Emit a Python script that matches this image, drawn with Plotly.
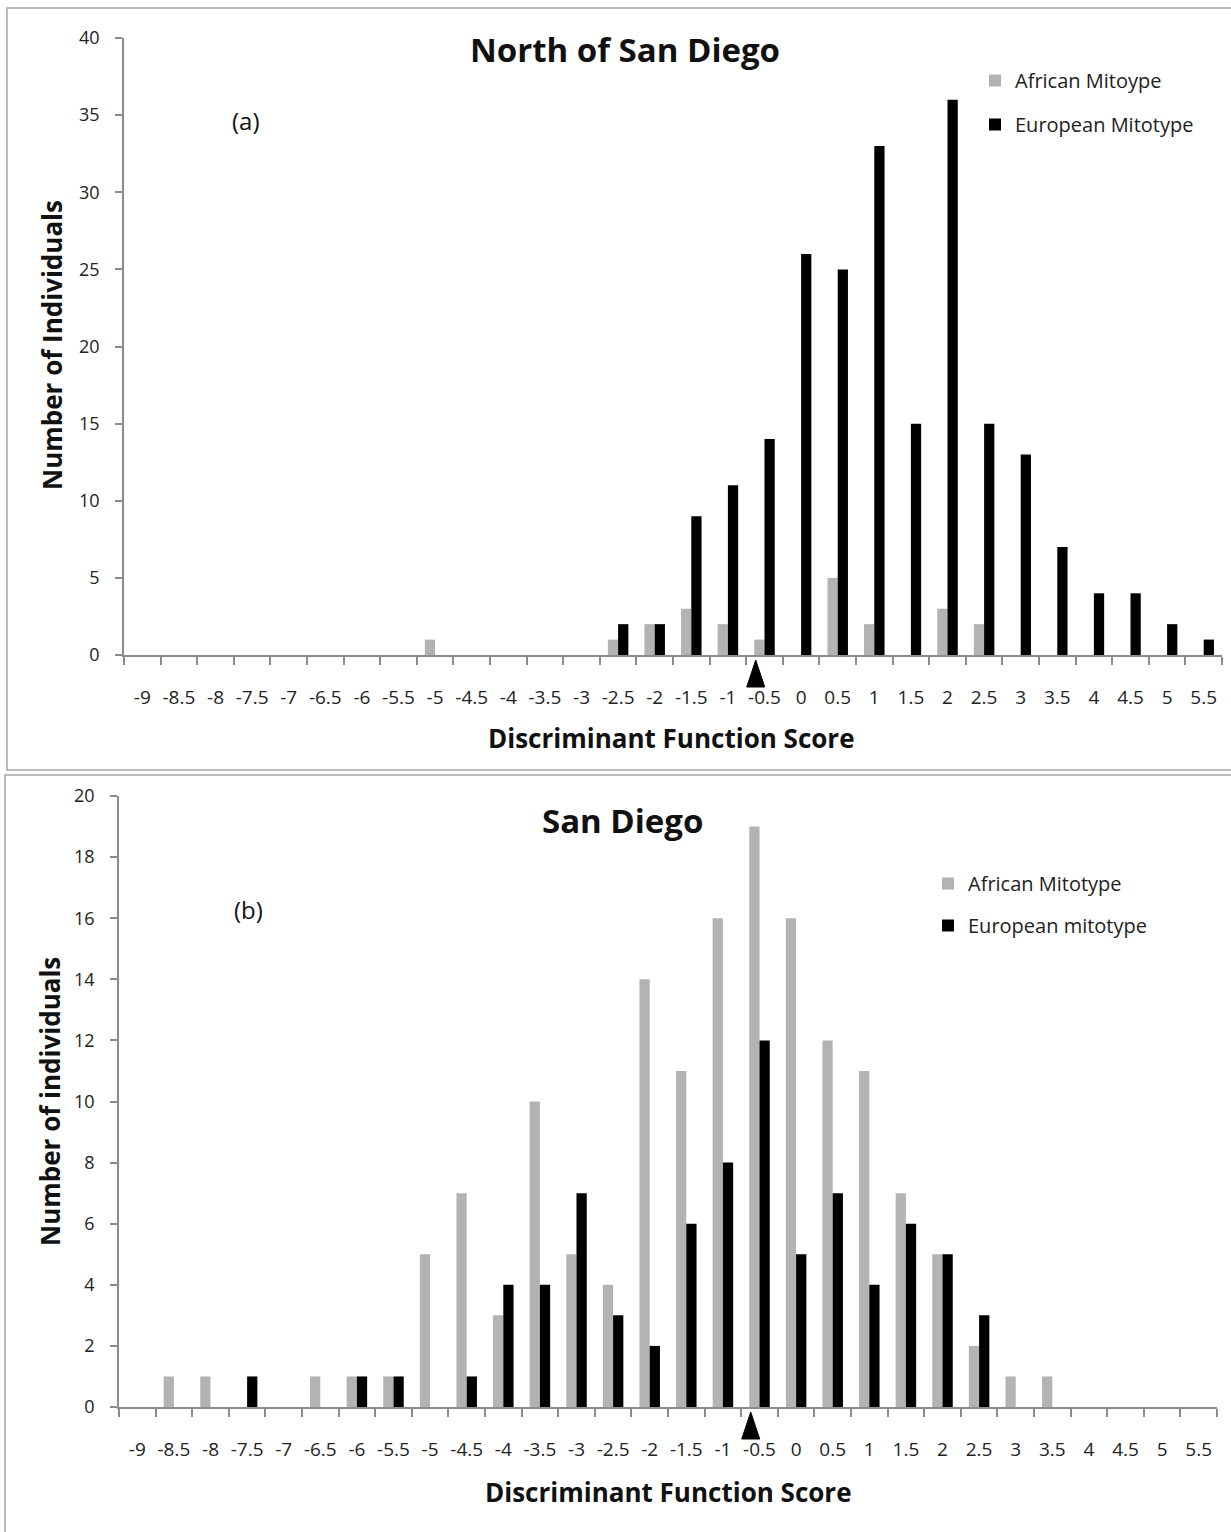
import plotly.graph_objects as go

# ---------------- data ----------------
scores = [-9, -8.5, -8, -7.5, -7, -6.5, -6, -5.5, -5, -4.5, -4, -3.5, -3, -2.5, -2,
          -1.5, -1, -0.5, 0, 0.5, 1, 1.5, 2, 2.5, 3, 3.5, 4, 4.5, 5, 5.5]
tick_labels = [("%g" % s) for s in scores]

# (a) North of San Diego
north_african = [0, 0, 0, 0, 0, 0, 0, 0, 1, 0, 0, 0, 0, 1, 2,
                 3, 2, 1, 0, 5, 2, 0, 3, 2, 0, 0, 0, 0, 0, 0]
north_european = [0, 0, 0, 0, 0, 0, 0, 0, 0, 0, 0, 0, 0, 2, 2,
                  9, 11, 14, 26, 25, 33, 15, 36, 15, 13, 7, 4, 4, 2, 1]

# (b) San Diego
sd_african = [0, 1, 1, 0, 0, 1, 1, 1, 5, 7, 3, 10, 5, 4, 14,
              11, 16, 19, 16, 12, 11, 7, 5, 2, 1, 1, 0, 0, 0, 0]
sd_european = [0, 0, 0, 1, 0, 0, 1, 1, 0, 1, 4, 4, 7, 3, 2,
               6, 8, 12, 5, 7, 4, 6, 5, 3, 0, 0, 0, 0, 0, 0]

threshold = -0.62  # position of the black triangle marker on the score axis

GRAY = "#b3b3b3"
BLACK = "#000000"
AXIS = "#8c8c8c"
FONT = "Open Sans"

W, H = 1231, 1532

def px(x):
    return x / W

def py(y):
    return 1 - y / H

fig = go.Figure()

fig.add_trace(go.Bar(x=scores, y=north_african, name="African Mitoype",
                     marker=dict(color=GRAY, line=dict(width=0)),
                     xaxis="x", yaxis="y", legend="legend", legendgroup="a1"))
fig.add_trace(go.Bar(x=scores, y=north_european, name="European Mitotype",
                     marker=dict(color=BLACK, line=dict(width=0)),
                     xaxis="x", yaxis="y", legend="legend", legendgroup="a2"))
fig.add_trace(go.Bar(x=scores, y=sd_african, name="African Mitotype",
                     marker=dict(color=GRAY, line=dict(width=0)),
                     xaxis="x2", yaxis="y2", legend="legend2", legendgroup="b1"))
fig.add_trace(go.Bar(x=scores, y=sd_european, name="European mitotype",
                     marker=dict(color=BLACK, line=dict(width=0)),
                     xaxis="x2", yaxis="y2", legend="legend2", legendgroup="b2"))

step = scores[1] - scores[0]
boundaries = [s - step / 2 for s in scores] + [scores[-1] + step / 2]
xrange = [boundaries[0], boundaries[-1]]

top_y_dom = [py(655), py(38)]
bot_y_dom = [py(1407), py(796)]

def xaxis_cfg(domain, anchor):
    return dict(domain=domain, anchor=anchor, range=xrange, tickmode="array",
                tickvals=scores, ticktext=tick_labels, ticks="", ticklabelstandoff=24,
                automargin=False,
                showline=True, linecolor=AXIS, linewidth=1.5, showgrid=False, zeroline=False,
                tickfont=dict(family=FONT, size=19, color="#222"),
                minor=dict(tickmode="array", tickvals=boundaries, ticks="outside",
                           ticklen=8, tickcolor=AXIS, tickwidth=1.5, showgrid=False))

def yaxis_cfg(domain, anchor, rng, dt):
    return dict(domain=domain, anchor=anchor, range=rng, dtick=dt, tick0=0,
                ticks="outside", ticklen=7, tickcolor=AXIS, tickwidth=1.5,
                ticklabelstandoff=12, automargin=False,
                showline=True, linecolor=AXIS, linewidth=1.5, showgrid=False, zeroline=False,
                tickfont=dict(family=FONT, size=18, color="#222"))

fig.update_layout(
    width=W, height=H,
    margin=dict(l=0, r=0, t=0, b=0, pad=0, autoexpand=False),
    paper_bgcolor="white", plot_bgcolor="white",
    barmode="group", bargap=0.44, bargroupgap=0,
    font=dict(family=FONT, color="#111"),
    xaxis=xaxis_cfg([px(124), px(1222)], "y"),
    yaxis=yaxis_cfg(top_y_dom, "x", [0, 40], 5),
    xaxis2=xaxis_cfg([px(119), px(1217)], "y2"),
    yaxis2=yaxis_cfg(bot_y_dom, "x2", [0, 20], 2),
    legend=dict(x=px(975), y=py(61), xanchor="left", yanchor="top",
                font=dict(family=FONT, size=20, color="#222"),
                traceorder="grouped", tracegroupgap=15, bgcolor="rgba(0,0,0,0)"),
    legend2=dict(x=px(928), y=py(864), xanchor="left", yanchor="top",
                 font=dict(family=FONT, size=20, color="#222"),
                 traceorder="grouped", tracegroupgap=13, bgcolor="rgba(0,0,0,0)"),
    showlegend=True,
)

# threshold triangles (pixel-sized, anchored at the threshold score on each axis)
tri_path = "M -9,-32 L 9,-32 L 0,-5 Z"
for xr, ydom in (("x", top_y_dom), ("x2", bot_y_dom)):
    fig.add_shape(type="path", xref=xr, yref="paper",
                  xsizemode="pixel", ysizemode="pixel",
                  xanchor=threshold, yanchor=ydom[0], path=tri_path,
                  fillcolor=BLACK, line=dict(color=BLACK, width=1))

# panel frames
fig.add_shape(type="rect", xref="paper", yref="paper",
              x0=px(7), x1=px(1240), y0=py(770), y1=py(8),
              line=dict(color="#a6a6a6", width=1.5))
fig.add_shape(type="rect", xref="paper", yref="paper",
              x0=px(5), x1=px(1240), y0=py(1545), y1=py(775),
              line=dict(color="#a6a6a6", width=1.5))

def ann(text, x, y, size, bold=False, angle=0):
    fig.add_annotation(text=("<b>%s</b>" % text) if bold else text,
                       xref="paper", yref="paper", x=px(x), y=py(y),
                       xanchor="center", yanchor="middle", showarrow=False,
                       textangle=angle, font=dict(family=FONT, size=size, color="#111"))

ann("North of San Diego", 625, 50, 33, bold=True)
ann("San Diego", 622, 820, 33, bold=True)
ann("Discriminant Function Score", 671, 738, 26, bold=True)
ann("Discriminant Function Score", 668, 1492, 26, bold=True)
ann("Number of Individuals", 52, 345, 26, bold=True, angle=-90)
ann("Number of individuals", 50, 1102, 26, bold=True, angle=-90)
ann("(a)", 246, 121, 24)
ann("(b)", 248, 909, 24)

fig.write_html("out.html", config={"displayModeBar": False},
               post_script="document.body.style.margin='0';document.body.style.overflow='hidden';")
